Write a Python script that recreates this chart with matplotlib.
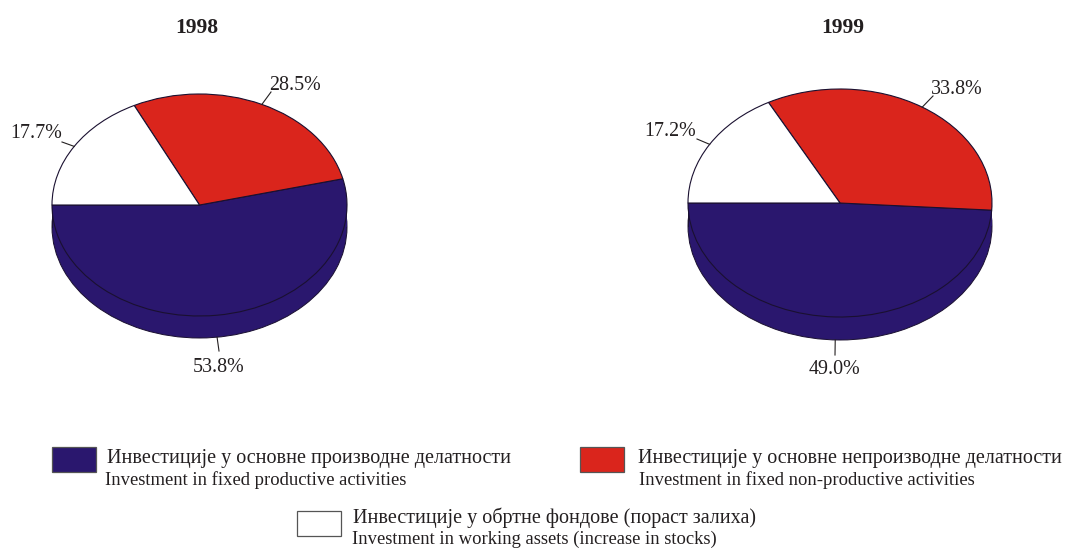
import numpy as np
import matplotlib
matplotlib.use('Agg')
import matplotlib.pyplot as plt
from matplotlib.patches import Rectangle

plt.rcParams['font.family'] = ['Liberation Serif', 'DejaVu Serif']

W, H = 1065, 548
NAVY = '#2a176e'
RED = '#da251c'
INK = '#231f20'

# data, order follows the pie going counterclockwise from the left edge
years = ['1998', '1999']
productive = [53.8, 49.0]
non_productive = [28.5, 33.8]
working_assets = [17.7, 17.2]
slice_colors = [NAVY, RED, 'white']

legend_ru = ['Инвестиције у основне производне делатности',
             'Инвестиције у основне непроизводне делатности',
             'Инвестиције у обртне фондове (пораст залиха)']
legend_en = ['Investment in fixed productive activities',
             'Investment in fixed non-productive activities',
             'Investment in working assets (increase in stocks)']

# pixel layout of each pie: centre x, centre y, radius x, radius y, depth
pie_boxes = [(199.5, 205, 147.5, 111, 22), (840, 203, 152, 114, 23)]
title_pos = [(197, 28), (843, 28)]
# leader line ends and label anchors, per slice (pixels)
leader_ends = [[(219, 351), (271, 92), (62, 142)],
               [(835, 355), (933, 96), (697, 139)]]
label_pos = [[(219, 367), (295, 85), (36, 134)],
             [(834, 370), (957, 89), (670, 132)]]

fig = plt.figure(figsize=(W / 100, H / 100), dpi=100, facecolor='white')
over = fig.add_axes([0, 0, 1, 1], zorder=5)
over.set_xlim(0, W)
over.set_ylim(H, 0)
over.axis('off')
over.patch.set_alpha(0)

for i, year in enumerate(years):
    cx, cy, rx, ry, depth = pie_boxes[i]
    vals = [productive[i], non_productive[i], working_assets[i]]
    ax = fig.add_axes([(cx - rx) / W, 1 - (cy + ry + depth + 1) / H,
                       2 * rx / W, (2 * ry + depth + 2) / H])
    d = depth / ry
    # side of the disc: lower ellipse and a band up to the top ellipse
    ax.pie([1], colors=[NAVY], radius=1, center=(0, -d), startangle=180,
           wedgeprops=dict(edgecolor='#1a1030', linewidth=0.7), normalize=True)
    ax.add_patch(Rectangle((-1, -d), 2, d, facecolor=NAVY, edgecolor='none', zorder=3))
    ax.plot([-1, -1], [-d, 0], color='#1a1030', lw=0.7, zorder=3)
    ax.plot([1, 1], [-d, 0], color='#1a1030', lw=0.7, zorder=3)
    wedges, _ = ax.pie(vals, colors=slice_colors, startangle=180, counterclock=True,
                       wedgeprops=dict(edgecolor='#1a1030', linewidth=0.8))
    for w in wedges:
        w.set_zorder(4)
    ax.set_aspect('auto')
    ax.set_xlim(-1.0, 1.0)
    ax.set_ylim(-1 - d - 1 / ry, 1 + 1 / ry)
    ax.axis('off')

    over.text(*title_pos[i], year, fontsize=15.5, fontweight='bold', color=INK,
              ha='center', va='center')

    # leaders start at the mid angle of each slice
    start = 180.0
    for j, v in enumerate(vals):
        mid = np.deg2rad(start + v * 3.6 / 2)
        start += v * 3.6
        px = cx + rx * np.cos(mid)
        py = cy - ry * np.sin(mid) + (depth if j == 0 else 0)
        ex, ey = leader_ends[i][j]
        over.plot([px, ex], [py, ey], color=INK, lw=0.8)
        lx, ly = label_pos[i][j]
        over.text(lx, ly, f'{v:.1f}%', fontsize=14.4, color=INK, ha='center', va='center')

# legend
swatches = [(52, 447, NAVY), (580, 447, RED), (297, 511, 'white')]
ru_pos = [(107, 458), (638, 459), (353, 518)]
en_pos = [(105, 480), (639, 480), (352, 539)]
for k in range(3):
    sx, sy, col = swatches[k]
    over.add_patch(Rectangle((sx, sy), 44, 25, facecolor=col, edgecolor='#555555', lw=0.9))
    over.text(*ru_pos[k], legend_ru[k], fontsize=14.5, color=INK, ha='left', va='center')
    over.text(*en_pos[k], legend_en[k], fontsize=13.4, color=INK, ha='left', va='center')

fig.savefig('out.png', dpi=100, facecolor='white')
